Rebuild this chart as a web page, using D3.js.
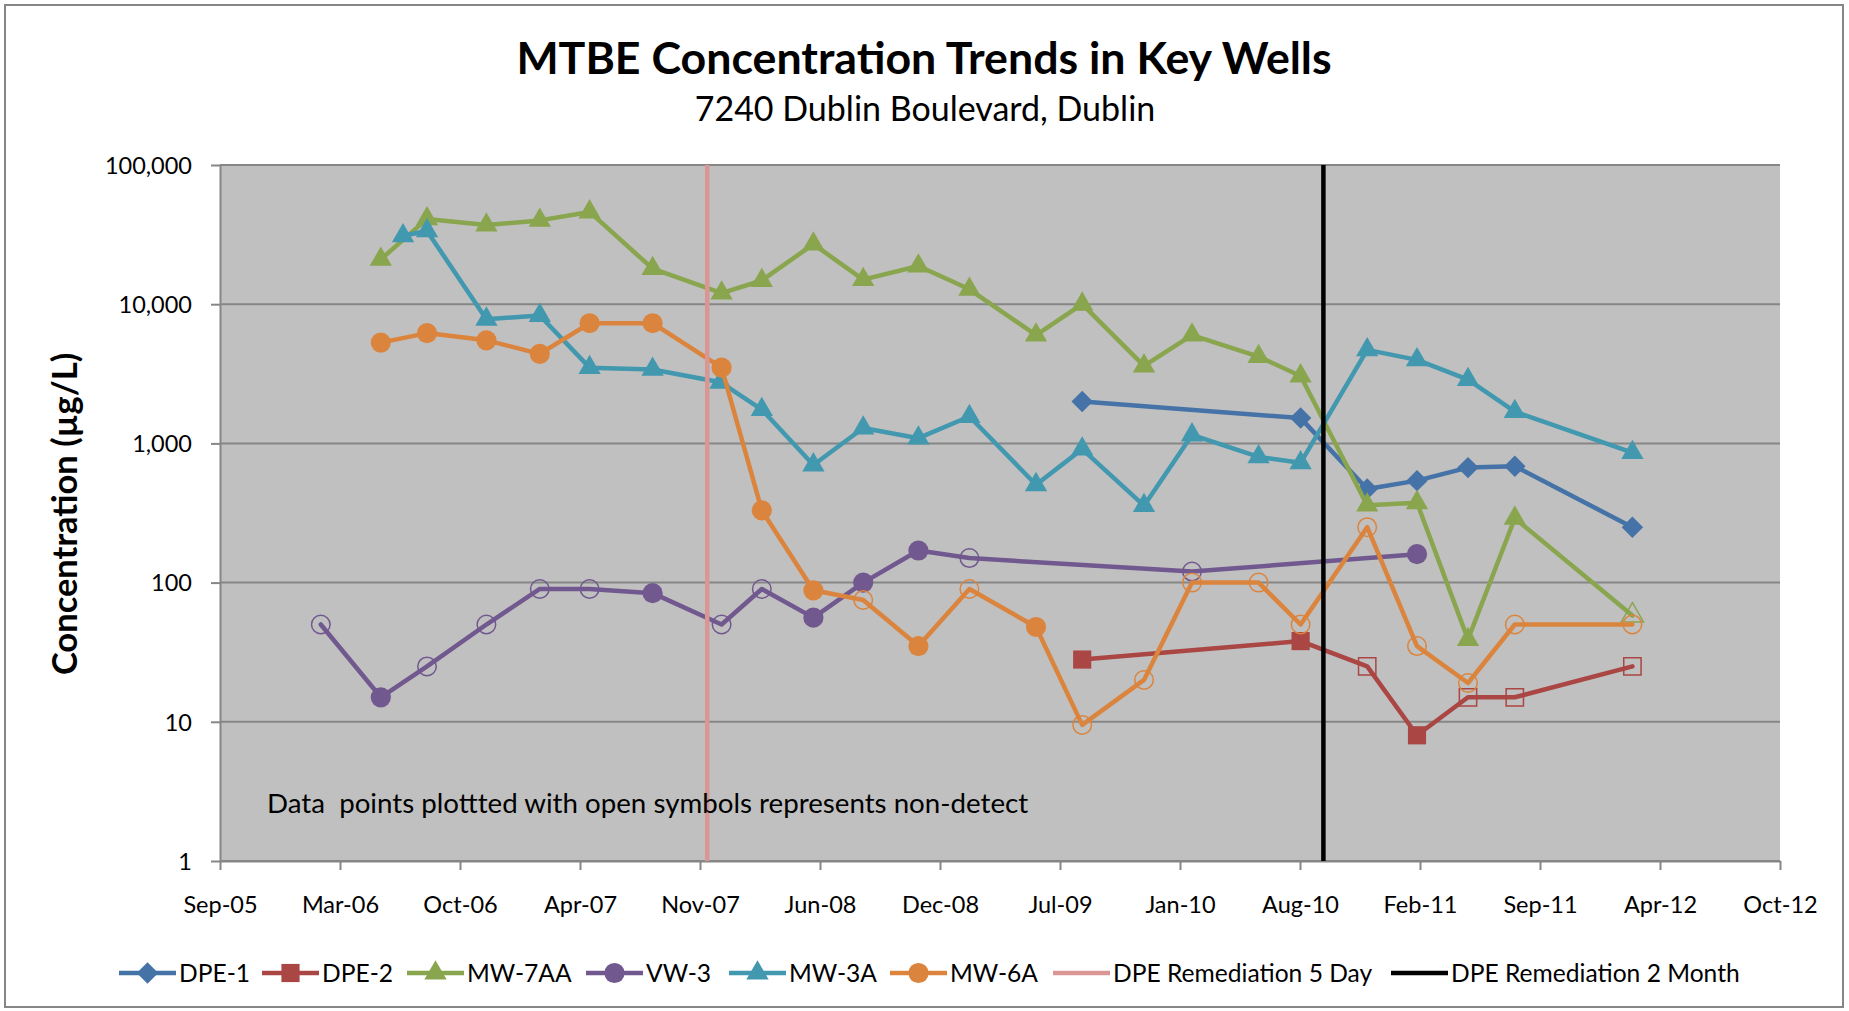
<!DOCTYPE html>
<html>
<head>
<meta charset="utf-8">
<script src="https://cdn.jsdelivr.net/npm/d3@7/dist/d3.min.js"></script>
<style>
body { margin: 0; background: #fff; }
text { font-family: Lato, "Open Sans", sans-serif; }
</style>
</head>
<body>
<div id="main"></div>
<script>
// x axis tick dates (Excel serial 38600 .. 41200, every 200 days)
const xTickDates = ["2005-09-05", "2006-03-24", "2006-10-10", "2007-04-28", "2007-11-14", "2008-06-01",
    "2008-12-18", "2009-07-06", "2010-01-22", "2010-08-10", "2011-02-26", "2011-09-14", "2012-04-01", "2012-10-18"]
const yTicks = [1, 10, 100, 1000, 10000, 100000]

const seriesNames = ["DPE-1", "DPE-2", "MW-7AA", "VW-3", "MW-3A", "MW-6A"]

// nd: 1 = non-detect (open symbol)
const dpe1Dates = ["2009-08-12", "2010-08-11", "2010-11-30", "2011-02-21", "2011-05-17", "2011-08-03", "2012-02-15"]
const dpe1Vals = [2000, 1520, 470, 540, 670, 685, 250]
const dpe1Nd = [0, 0, 0, 0, 0, 0, 0]

const dpe2Dates = ["2009-08-12", "2010-08-11", "2010-11-30", "2011-02-21", "2011-05-17", "2011-08-03", "2012-02-15"]
const dpe2Vals = [28, 38, 25, 8, 15, 15, 25]
const dpe2Nd = [0, 0, 1, 0, 1, 1, 1]

const mw7aaDates = ["2006-05-31", "2006-08-16", "2006-11-23", "2007-02-20", "2007-05-14", "2007-08-27", "2007-12-20",
    "2008-02-25", "2008-05-21", "2008-08-12", "2008-11-12", "2009-02-05", "2009-05-27", "2009-08-12", "2009-11-23",
    "2010-02-11", "2010-06-02", "2010-08-11", "2010-11-30", "2011-02-21", "2011-05-17", "2011-08-03", "2012-02-15"]
const mw7aaVals = [21000, 41000, 37000, 40000, 46000, 18000, 12000, 14800, 27000, 15000, 18800, 12800, 6000, 10000,
    3600, 6000, 4200, 3050, 360, 375, 39, 290, 58]
const mw7aaNd = [0, 0, 0, 0, 0, 0, 0, 0, 0, 0, 0, 0, 0, 0, 0, 0, 0, 0, 0, 0, 0, 0, 1]

const vw3Dates = ["2006-02-20", "2006-05-31", "2006-08-16", "2006-11-23", "2007-02-20", "2007-05-14", "2007-08-27",
    "2007-12-20", "2008-02-25", "2008-05-21", "2008-08-12", "2008-11-12", "2009-02-05", "2010-02-11", "2011-02-21"]
const vw3Vals = [50, 15, 25, 50, 90, 90, 84, 50, 90, 56, 100, 170, 150, 120, 160]
const vw3Nd = [1, 0, 1, 1, 1, 1, 0, 1, 1, 0, 0, 0, 1, 1, 0]

const mw3aDates = ["2006-07-07", "2006-08-16", "2006-11-23", "2007-02-20", "2007-05-14", "2007-08-27", "2007-12-18",
    "2008-02-25", "2008-05-21", "2008-08-12", "2008-11-12", "2009-02-05", "2009-05-27", "2009-08-12", "2009-11-23",
    "2010-02-11", "2010-06-02", "2010-08-11", "2010-11-30", "2011-02-21", "2011-05-17", "2011-08-03", "2012-02-15"]
const mw3aVals = [31000, 33600, 7800, 8300, 3500, 3400, 2750, 1750, 700, 1290, 1090, 1560, 505, 910, 357,
    1150, 800, 725, 4700, 3980, 2870, 1690, 860]
const mw3aNd = [0, 0, 0, 0, 0, 0, 0, 0, 0, 0, 0, 0, 0, 0, 0, 0, 0, 0, 0, 0, 0, 0, 0]

const mw6aDates = ["2006-05-31", "2006-08-16", "2006-11-23", "2007-02-20", "2007-05-14", "2007-08-27", "2007-12-20",
    "2008-02-25", "2008-05-21", "2008-08-12", "2008-11-12", "2009-02-05", "2009-05-27", "2009-08-12", "2009-11-23",
    "2010-02-11", "2010-06-02", "2010-08-11", "2010-11-30", "2011-02-21", "2011-05-17", "2011-08-03", "2012-02-15"]
const mw6aVals = [5300, 6200, 5500, 4400, 7300, 7300, 3500, 330, 88, 75, 35, 90, 48, 9.5, 20,
    100, 100, 50, 250, 35, 19, 50, 50]
const mw6aNd = [0, 0, 0, 0, 0, 0, 0, 0, 0, 1, 0, 1, 0, 1, 1, 1, 1, 1, 1, 1, 1, 1, 1]

const refNames = ["DPE Remediation 5 Day", "DPE Remediation 2 Month"]
const refDates = ["2007-11-26", "2010-09-18"]

function graphData() {
    let W = 1849, H = 1011
    let margin = {top: 165, right: 69, bottom: 150, left: 220}
    let pxX = W - margin.left - margin.right,
        pxY = H - margin.top - margin.bottom
    let parse = d3.timeParse("%Y-%m-%d")

    let svg = d3.select("#main").append("svg")
        .attr("width", W)
        .attr("height", H)

    // chart frame
    svg.append("rect")
        .attr("x", 5).attr("y", 5)
        .attr("width", W - 11).attr("height", H - 9)
        .attr("fill", "none")
        .attr("stroke", "#868686")
        .attr("stroke-width", 2)

    svg.append("text")
        .attr("x", 924).attr("y", 74)
        .attr("text-anchor", "middle")
        .attr("font-size", 44.7)
        .attr("font-weight", "bold")
        .text("MTBE Concentration Trends in Key Wells")
    svg.append("text")
        .attr("x", 925).attr("y", 121)
        .attr("text-anchor", "middle")
        .attr("font-size", 34)
        .text("7240 Dublin Boulevard, Dublin")

    let g = svg.append("g")
        .attr("transform", `translate(${margin.left} ${margin.top})`)

    let scX = d3.scaleTime()
        .domain([parse(xTickDates[0]), parse(xTickDates[xTickDates.length - 1])])
        .range([0, pxX])
    let scY = d3.scaleLog().domain([1, 100000]).range([pxY, 0])

    g.append("rect")
        .attr("width", pxX).attr("height", pxY)
        .attr("fill", "#c0c0c0")

    g.selectAll(".grid").data(yTicks).enter()
        .append("line")
        .attr("x1", 0).attr("x2", pxX)
        .attr("y1", d => scY(d)).attr("y2", d => scY(d))
        .attr("stroke", "#868686")
        .attr("stroke-width", 2)

    //axes
    let axY = g.append("g")
        .call(d3.axisLeft(scY).tickValues(yTicks).tickFormat(d3.format(",")).tickSize(9).tickSizeOuter(0))
    let axX = g.append("g")
        .attr("transform", `translate(0, ${pxY})`)
        .call(d3.axisBottom(scX).tickValues(xTickDates.map(parse)).tickFormat(d3.timeFormat("%b-%y"))
            .tickSize(9).tickSizeOuter(0))
    ;[axY, axX].forEach(ax => {
        ax.select(".domain").attr("stroke", "#868686").attr("stroke-width", 2)
        ax.selectAll(".tick line").attr("stroke", "#868686").attr("stroke-width", 2)
        ax.selectAll("text").attr("font-family", "Lato").attr("font-size", 23.5).attr("fill", "#000")
    })
    axY.selectAll("text").attr("x", -28).attr("dy", "0.35em")
    axX.selectAll("text").attr("y", 44).attr("dy", "0.35em")

    svg.append("text")
        .attr("transform", "translate(65 514) rotate(-90)")
        .attr("text-anchor", "middle")
        .attr("dy", "0.35em")
        .attr("font-size", 34.5)
        .attr("font-weight", "bold")
        .text("Concentration (µg/L)")

    // series
    let colors = ["#4572a7", "#aa4643", "#89a54e", "#71588f", "#4198af", "#db843d"]
    let shapes = ["diamond", "square", "triangle", "circle", "triangle", "circle"]
    let table = [
        [dpe1Dates, dpe1Vals, dpe1Nd],
        [dpe2Dates, dpe2Vals, dpe2Nd],
        [mw7aaDates, mw7aaVals, mw7aaNd],
        [vw3Dates, vw3Vals, vw3Nd],
        [mw3aDates, mw3aVals, mw3aNd],
        [mw6aDates, mw6aVals, mw6aNd]
    ].map(([dates, vals, nd]) => dates.map((d, i) => ({date: parse(d), v: vals[i], nd: nd[i]})))

    function marker(shape, open) {
        let sym = {diamond: d3.symbolSquare, square: d3.symbolSquare, triangle: d3.symbolTriangle, circle: d3.symbolCircle}[shape]
        let size = {diamond: 230, square: open ? 300 : 330, triangle: 215, circle: open ? 270 : 320}[shape]
        return d3.symbol().type(sym).size(size)()
    }

    let makeLine = d3.line()
        .x(d => scX(d.date))
        .y(d => scY(d.v))

    table.forEach((pts, idx) => {
        let sg = g.append("g")
        sg.append("path")
            .attr("d", makeLine(pts))
            .attr("fill", "none")
            .attr("stroke", colors[idx])
            .attr("stroke-width", 4.5)
            .attr("stroke-linejoin", "round")
            .attr("stroke-linecap", "round")
        sg.selectAll("path.mk").data(pts).enter()
            .append("path")
            .attr("class", "mk")
            .attr("d", d => marker(shapes[idx], d.nd))
            .attr("transform", d => `translate(${scX(d.date)} ${scY(d.v)})` + (shapes[idx] == "diamond" ? " rotate(45)" : ""))
            .attr("fill", d => d.nd ? "none" : colors[idx])
            .attr("stroke", d => d.nd ? colors[idx] : "none")
            .attr("stroke-width", 1.5)
    })

    // remediation lines
    let refColors = ["#d99694", "#000000"]
    refDates.forEach((d, i) => {
        g.append("line")
            .attr("x1", scX(parse(d))).attr("x2", scX(parse(d)))
            .attr("y1", scY(1)).attr("y2", scY(100000))
            .attr("stroke", refColors[i])
            .attr("stroke-width", 4.5)
    })

    g.append("text")
        .attr("x", 47).attr("y", 648)
        .attr("font-size", 27.7)
        .text("Data  points plottted with open symbols represents non-detect")
        .style("white-space", "pre")

    // legend
    let legX = [119, 262, 407, 586, 729, 890, 1053, 1391]
    let legY = 973
    let leg = svg.append("g")
    seriesNames.concat(refNames).forEach((name, i) => {
        let c = i < 6 ? colors[i] : refColors[i - 6]
        leg.append("line")
            .attr("x1", legX[i]).attr("x2", legX[i] + 57)
            .attr("y1", legY).attr("y2", legY)
            .attr("stroke", c)
            .attr("stroke-width", 4.5)
        if (i < 6) {
            leg.append("path")
                .attr("d", marker(shapes[i], 0))
                .attr("transform", `translate(${legX[i] + 28.5} ${legY})` + (shapes[i] == "diamond" ? " rotate(45)" : ""))
                .attr("fill", c)
        }
        leg.append("text")
            .attr("x", legX[i] + 60).attr("y", legY)
            .attr("dy", "0.35em")
            .attr("font-size", 24.6)
            .text(name)
    })
}
graphData()
</script>
</body>
</html>
